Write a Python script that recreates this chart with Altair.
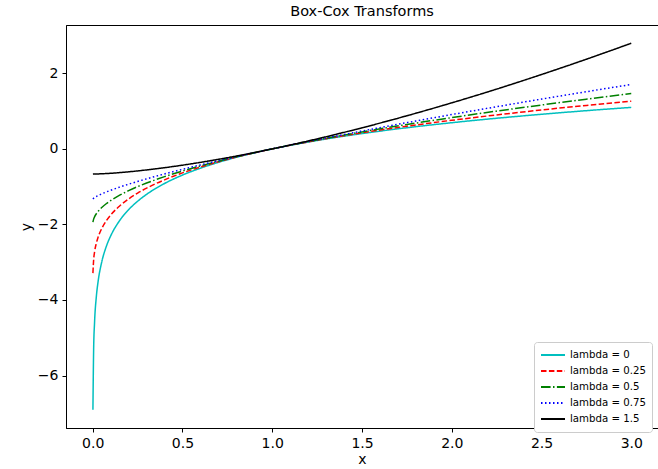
import altair as alt
import pandas as pd

# Sample x positions shared by all curves
x_vals = [0.001, 0.005, 0.01, 0.02, 0.03, 0.05, 0.075, 0.1, 0.15, 0.2, 0.25, 0.3,
          0.4, 0.5, 0.6, 0.7, 0.8, 0.9, 1.0, 1.25, 1.5, 1.75, 2.0, 2.25, 2.5, 2.75, 3.0]

# Transformed values for each lambda
y_l0 = [-6.908, -5.298, -4.605, -3.912, -3.507, -2.996, -2.590, -2.303, -1.897, -1.609,
        -1.386, -1.204, -0.916, -0.693, -0.511, -0.357, -0.223, -0.105, 0.0, 0.223,
        0.405, 0.560, 0.693, 0.811, 0.916, 1.012, 1.099]
y_l025 = [-3.289, -2.936, -2.735, -2.496, -2.335, -2.109, -1.907, -1.751, -1.511, -1.325,
          -1.172, -1.040, -0.819, -0.636, -0.480, -0.341, -0.217, -0.104, 0.0, 0.229,
          0.427, 0.601, 0.757, 0.899, 1.030, 1.151, 1.264]
y_l05 = [-1.937, -1.859, -1.800, -1.717, -1.654, -1.553, -1.452, -1.368, -1.225, -1.106,
         -1.000, -0.905, -0.735, -0.586, -0.451, -0.327, -0.211, -0.103, 0.0, 0.236,
         0.449, 0.646, 0.828, 1.000, 1.162, 1.317, 1.464]
y_l075 = [-1.326, -1.308, -1.291, -1.262, -1.237, -1.192, -1.142, -1.096, -1.012, -0.935,
          -0.862, -0.793, -0.663, -0.541, -0.424, -0.313, -0.206, -0.101, 0.0, 0.243,
          0.474, 0.695, 0.909, 1.116, 1.318, 1.514, 1.706]
y_l15 = [-0.667, -0.666, -0.666, -0.665, -0.663, -0.659, -0.653, -0.646, -0.628, -0.607,
         -0.583, -0.557, -0.498, -0.431, -0.357, -0.276, -0.190, -0.098, 0.0, 0.265,
         0.558, 0.877, 1.219, 1.583, 1.969, 2.374, 2.797]

labels = ["lambda = 0", "lambda = 0.25", "lambda = 0.5", "lambda = 0.75", "lambda = 1.5"]
colors = ["#00bfbf", "#ff0000", "#008000", "#0000ff", "#000000"]
dashes = [[1, 0], [5.5, 2.4], [9.6, 2.4, 1.5, 2.4], [1.5, 2.5], [1, 0]]

series = [y_l0, y_l025, y_l05, y_l075, y_l15]
rows = []
for order, (lab, ys) in enumerate(zip(labels, series)):
    for xv, yv in zip(x_vals, ys):
        rows.append({"x": xv, "y": yv, "series": lab, "order": order})
df = pd.DataFrame(rows)

FONT = "DejaVu Sans"
LEGEND = alt.Legend(title=None, orient="none", legendX=468, legendY=317)

chart = alt.Chart(df).mark_line(strokeWidth=1.5, interpolate="monotone").encode(
    x=alt.X("x:Q",
            scale=alt.Scale(domain=[-0.149, 3.149], nice=False, zero=False),
            axis=alt.Axis(title="x", values=[0, 0.5, 1.0, 1.5, 2.0, 2.5, 3.0], format=".1f")),
    y=alt.Y("y:Q",
            scale=alt.Scale(domain=[-7.39, 3.28], nice=False, zero=False),
            axis=alt.Axis(title="y", values=[-6, -4, -2, 0, 2], format="d")),
    color=alt.Color("series:N", scale=alt.Scale(domain=labels, range=colors), legend=LEGEND),
    strokeDash=alt.StrokeDash("series:N", scale=alt.Scale(domain=labels, range=dashes),
                              legend=LEGEND),
    detail="order:N",
).properties(
    width=592,
    height=403,
    title=alt.TitleParams("Box-Cox Transforms", font=FONT, fontSize=14.5,
                          fontWeight="normal", color="#000000", offset=6),
    autosize=alt.AutoSizeParams(type="none"),
    padding={"left": 66, "top": 25, "right": 0, "bottom": 41},
).configure_view(
    stroke="#000000", strokeWidth=1
).configure_axis(
    grid=False,
    domainColor="#000000",
    tickColor="#000000",
    tickSize=4,
    labelFont=FONT,
    labelFontSize=14,
    labelColor="#000000",
    titleFont=FONT,
    titleFontSize=14,
    titleFontWeight="normal",
    titleColor="#000000",
    labelPadding=4,
).configure_axisX(
    titlePadding=2,
).configure_axisY(
    titlePadding=4,
).configure_legend(
    labelFont=FONT,
    labelFontSize=10.2,
    labelColor="#000000",
    symbolType="stroke",
    symbolSize=576,
    symbolStrokeWidth=2,
    clipHeight=13.8,
    rowPadding=2,
    padding=6,
    strokeColor="#cccccc",
    fillColor="#ffffff",
    cornerRadius=3,
)

chart.save("out.html", embed_options={"renderer": "svg", "actions": False})
